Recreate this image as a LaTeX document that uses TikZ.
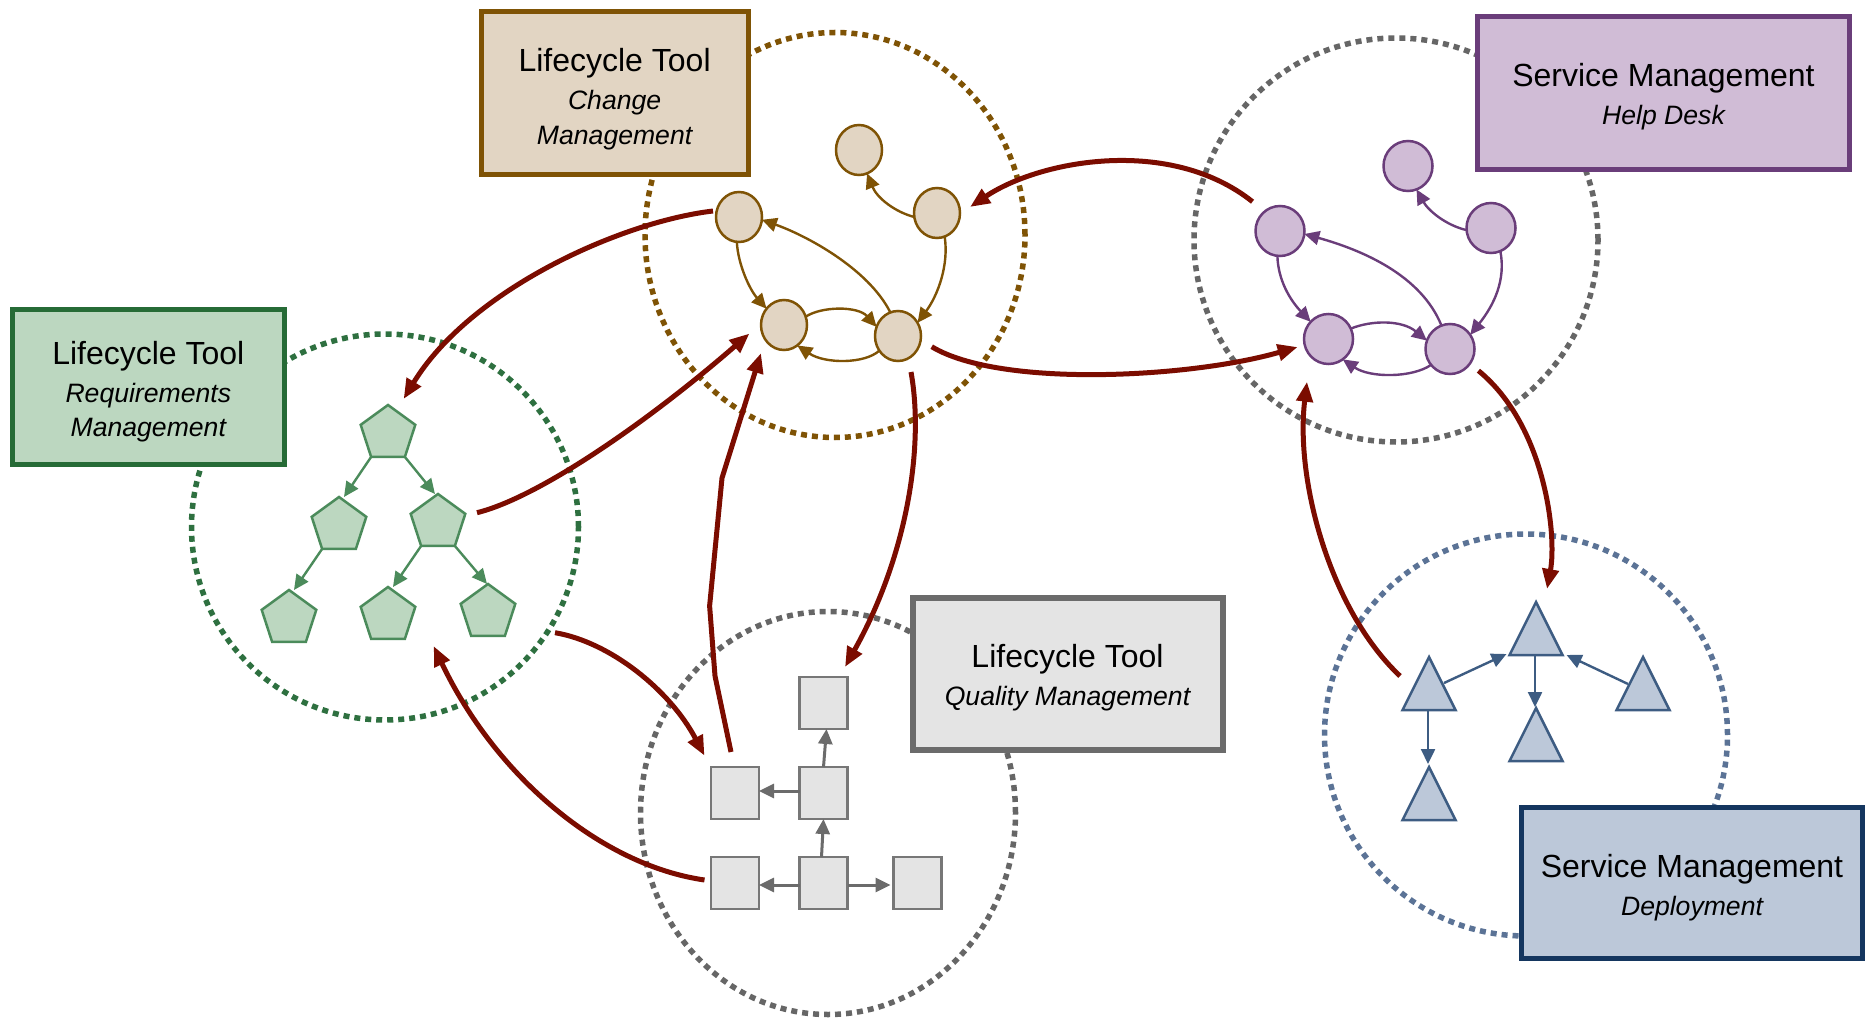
\documentclass[tikz,border=0pt]{standalone}
\usepackage{fontspec}
\setmainfont{Liberation Sans}
\usetikzlibrary{shapes.geometric,arrows.meta}
\definecolor{brn}{HTML}{7F5305}\definecolor{brnf}{HTML}{E2D5C3}
\definecolor{grn}{HTML}{266B36}\definecolor{grnf}{HTML}{BCD7C0}\definecolor{grnl}{HTML}{4B8B5B}\definecolor{grnd}{HTML}{2E7040}
\definecolor{pur}{HTML}{6A3D7A}\definecolor{purf}{HTML}{D0BCD6}
\definecolor{nvy}{HTML}{14365F}\definecolor{nvyf}{HTML}{BCC8D9}\definecolor{nvyl}{HTML}{3D5C82}\definecolor{nvyd}{HTML}{5B7396}
\definecolor{gry}{HTML}{6B6B6B}\definecolor{gryf}{HTML}{E4E4E4}\definecolor{gryl}{HTML}{777777}\definecolor{gryd}{HTML}{666666}
\definecolor{bigc}{HTML}{7B0C00}
\newcommand{\ttl}[2]{\fontsize{32}{36}\selectfont\rule{0pt}{#1pt}#2}
\newcommand{\sbt}[1]{\fontsize{26.6}{35}\selectfont\itshape #1}
\tikzset{
 halo/.style={draw=#1,ellipse,inner sep=0pt,outer sep=0pt,line width=5.5pt,dash pattern=on 6pt off 5pt},
 toolbox/.style 2 args={draw=#1,fill=#2,rectangle,inner sep=0pt,outer sep=0pt,line width=5pt,align=center,text=black},
 roundnode/.style 2 args={draw=#1,fill=#2,ellipse,minimum width=46pt,minimum height=50pt,inner sep=0pt,outer sep=0pt,line width=2.5pt},
 penta/.style={draw=grnl,fill=grnf,regular polygon,regular polygon sides=5,minimum size=57.4pt,inner sep=0pt,outer sep=0pt,line width=2.5pt},
 squarenode/.style={draw=gryl,fill=gryf,rectangle,minimum width=48pt,minimum height=52pt,inner sep=0pt,outer sep=0pt,line width=2.5pt},
 trinode/.style={draw=nvyl,fill=nvyf,isosceles triangle,isosceles triangle stretches=true,shape border rotate=90,minimum width=53pt,minimum height=53pt,inner sep=0pt,outer sep=0pt,line width=2.5pt,anchor=apex},
 small/.style={draw=#1,line width=2.4pt,-{Triangle[length=15pt,width=14pt]}},
 big/.style={draw=bigc,line width=5pt,line join=round,-{Triangle[length=20pt,width=16pt]}},
}
\begin{document}
\begin{tikzpicture}[x=1pt,y=-1pt]
\useasboundingbox (0,0) rectangle (1865,1024);
% halos
\node[halo=brn,minimum width=380pt,minimum height=405pt] (hchange) at (835,235) {};
\node[halo=gryd,minimum width=404pt,minimum height=404pt] (hhelp) at (1396,240) {};
\node[halo=grnd,minimum width=387pt,minimum height=386pt] (hreq) at (385,527) {};
\node[halo=gryd,minimum width=375pt,minimum height=403pt] (hqual) at (828,813) {};
\node[halo=nvyd,minimum width=403pt,minimum height=402pt] (hdep) at (1526,735) {};
% boxes
\node[toolbox={brn}{brnf},minimum width=267pt,minimum height=163pt] (bchange) at (614.6,93) {\ttl{35}{Lifecycle Tool}\\[11.5pt]\sbt{Change}\\[9.5pt]\sbt{Management}};
\node[toolbox={grn}{grnf},minimum width=272.5pt,minimum height=155pt] (breq) at (148.3,386.7) {\ttl{33}{Lifecycle Tool}\\[11.5pt]\sbt{Requirements}\\[9.5pt]\sbt{Management}};
\node[toolbox={pur}{purf},minimum width=372pt,minimum height=153pt] (bhelp) at (1663.5,93) {\ttl{30}{Service Management}\\[11.5pt]\sbt{Help Desk}};
\node[toolbox={nvy}{nvyf},minimum width=341pt,minimum height=151pt] (bdep) at (1692,883) {\ttl{33}{Service Management}\\[11.5pt]\sbt{Deployment}};
\node[toolbox={gry}{gryf},line width=6pt,minimum width=310pt,minimum height=152pt] (bqual) at (1067.5,673.5) {\ttl{31}{Lifecycle Tool}\\[11.5pt]\sbt{Quality Management}};
% change graph
\node[roundnode={brn}{brnf}] (c1) at (859,150) {};
\node[roundnode={brn}{brnf}] (c2) at (937,213) {};
\node[roundnode={brn}{brnf}] (c3) at (739,217) {};
\node[roundnode={brn}{brnf}] (c4) at (784,325) {};
\node[roundnode={brn}{brnf}] (c5) at (898,336) {};
\draw[small=brn] (c3.265) .. controls (738,265) and (750,290) .. (c4.137);
\draw[small=brn] (c4.21) .. controls (822,306) and (858,306) .. (c5.157);
\draw[small=brn] (c5.218) .. controls (865,364) and (825,364) .. (c4.303);
\draw[small=brn] (c5.108) .. controls (868,268) and (805,235) .. (c3.353);
\draw[small=brn] (c2.288) .. controls (949,265) and (938,295) .. (c5.34);
\draw[small=brn] (c2.190) .. controls (895,212) and (877,198) .. (c1.289);
% help graph
\node[roundnode={pur}{purf},minimum width=49pt] (h1) at (1408,166) {};
\node[roundnode={pur}{purf},minimum width=49pt] (h2) at (1491,228) {};
\node[roundnode={pur}{purf},minimum width=49pt] (h3) at (1280,231) {};
\node[roundnode={pur}{purf},minimum width=49pt] (h4) at (1328.5,339) {};
\node[roundnode={pur}{purf},minimum width=49pt] (h5) at (1450,349) {};
\draw[small=pur] (h3.264) .. controls (1278,280) and (1290,300) .. (h4.136);
\draw[small=pur] (h4.25) .. controls (1372,320) and (1402,320) .. (h5.160);
\draw[small=pur] (h5.220) .. controls (1412,378) and (1370,378) .. (h4.305);
\draw[small=pur] (h5.110) .. controls (1421,275) and (1362,250) .. (h3.353);
\draw[small=pur] (h2.292) .. controls (1506,280) and (1494,305) .. (h5.35);
\draw[small=pur] (h2.185) .. controls (1445,225) and (1428,210) .. (h1.290);
% requirements tree
\node[penta] (p1) at (388,433.7) {};
\node[penta] (p2) at (339,525.7) {};
\node[penta] (p3) at (438,522.7) {};
\node[penta] (p4) at (289,618.7) {};
\node[penta] (p5) at (388,615.7) {};
\node[penta] (p6) at (488,612.7) {};
\draw[small=grnl] (p1.corner 3) -- ([xshift=5pt]p2.corner 1);
\draw[small=grnl] (p1.corner 4) -- ([xshift=-3pt]p3.corner 1);
\draw[small=grnl] (p3.corner 3) -- ([xshift=5pt]p5.corner 1);
\draw[small=grnl] (p3.corner 4) -- ([xshift=-1pt]p6.corner 1);
\draw[small=grnl] (p2.corner 3) -- ([xshift=5pt]p4.corner 1);
% quality graph
\node[squarenode] (st) at (823.5,703) {};
\node[squarenode] (sml) at (735,793) {};
\node[squarenode] (smr) at (823.5,793) {};
\node[squarenode] (sll) at (735,883) {};
\node[squarenode] (slm) at (823.5,883) {};
\node[squarenode] (slr) at (917.5,883) {};
\draw[small=gry,line width=3pt] (smr.north) -- ([xshift=3pt]st.south);
\draw[small=gry,line width=3pt] ([yshift=2pt]smr.west) -- ([yshift=2pt]sml.east);
\draw[small=gry,line width=3pt] ([xshift=-2pt]slm.north) -- ([xshift=0pt]smr.south);
\draw[small=gry,line width=3pt] ([yshift=-2pt]slm.west) -- ([yshift=-2pt]sll.east);
\draw[small=gry,line width=3pt] ([yshift=-2pt]slm.east) -- ([xshift=-3pt,yshift=-2pt]slr.west);
% deployment graph
\node[trinode] (tt) at (1536,602) {};
\node[trinode] (tl) at (1429,657) {};
\node[trinode] (tr) at (1643,657) {};
\node[trinode] (tm) at (1536,708) {};
\node[trinode] (tw) at (1429,767) {};
\draw[small=nvyl] ([shift={(15,26)}]tl.apex) -- ([shift={(-29.5,52)}]tt.apex);
\draw[small=nvyl] ([shift={(-1,53)}]tt.apex) -- ([shift={(-1,-1)}]tm.apex);
\draw[small=nvyl] ([shift={(-15,27)}]tr.apex) -- ([shift={(30.6,53)}]tt.apex);
\draw[small=nvyl] ([shift={(-1,53)}]tl.apex) -- ([shift={(-1,-3)}]tw.apex);
% flows between tools
\draw[big] ([shift={(-26,-6)}]c3.center) .. controls (620,222) and (470,290) .. ([shift={(15.6,-34.7)}]p1.center);
\draw[big] ([shift={(39,-10)}]p3.center) .. controls (540,497) and (650,420) .. ([shift={(-34.5,8.5)}]c4.center);
\draw[big] ([shift={(-4,-41)}]sml.center) -- (715,676) -- (709.6,606) -- (722,478) -- ([shift={(-23,28)}]c4.center);
\draw[big] ([shift={(13,36)}]c5.center) .. controls (925,450) and (905,560) .. ([shift={(21.5,-36)}]st.center);
\draw[big] ([shift={(67,20)}]p6.center) .. controls (610,642) and (670,690) .. ([shift={(-30.5,-37.3)}]sml.center);
\draw[big] ([shift={(-30.5,-3)}]sll.center) .. controls (600,865) and (495,775) .. ([shift={(45.6,30.3)}]p5.center);
\draw[big] ([shift={(-27.5,-29.3)}]h3.center) .. controls (1170,136) and (1040,160) .. ([shift={(33,-6)}]c2.center);
\draw[big] ([shift={(33.7,10.7)}]c5.center) .. controls (1000,388) and (1190,378) .. ([shift={(-30.8,8)}]h4.center);
\draw[big] ([shift={(28.4,21.7)}]h5.center) .. controls (1545,425) and (1557,535) .. ([shift={(11,-13)}]tt.apex);
\draw[big] ([shift={(-29,19)}]tl.apex) .. controls (1330,610) and (1295,480) .. ([shift={(-21.5,42.7)}]h4.center);
\end{tikzpicture}
\end{document}
